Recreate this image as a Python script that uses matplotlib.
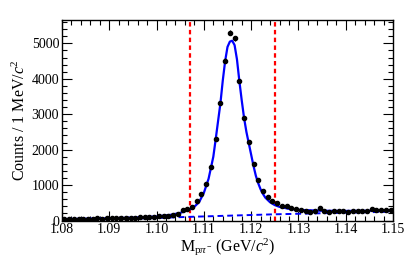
import numpy as np
import matplotlib
matplotlib.use("Agg")
import matplotlib.pyplot as plt
from matplotlib.ticker import MultipleLocator, FormatStrFormatter

plt.rcParams['font.family'] = ['Liberation Serif', 'DejaVu Serif']
plt.rcParams['mathtext.fontset'] = 'custom'
plt.rcParams['mathtext.rm'] = 'Liberation Serif'
plt.rcParams['mathtext.it'] = 'Liberation Serif:italic'

# Data points (bin centers, counts per 1 MeV)
bin_centers = np.round(np.arange(1.0805, 1.1500, 0.001), 4)
counts = [40, 45, 42, 50, 48, 55, 52, 58, 56, 62, 60, 66, 64, 70, 75, 80, 85, 90, 100, 105,
          115, 125, 135, 147, 192, 296, 316, 372, 550, 739, 1030, 1501, 2291, 3307, 4510, 5300,
          5142, 3945, 2901, 2215, 1594, 1140, 832, 655, 542, 485, 418, 418, 353, 325,
          305, 268, 248, 260, 353, 268, 240, 277, 268, 277, 240, 277, 268, 262, 280, 320,
          290, 300, 310, 310]

# Total fit curve
fit_x = [1.080, 1.085, 1.090, 1.095, 1.100, 1.103, 1.105, 1.107, 1.108, 1.109, 1.110, 1.111,
         1.112, 1.1125, 1.113, 1.1135, 1.114, 1.1145, 1.115, 1.1155, 1.116, 1.1165, 1.117,
         1.1175, 1.118, 1.1185, 1.119, 1.1195, 1.120, 1.1205, 1.121, 1.1215, 1.122, 1.1225,
         1.123, 1.124, 1.125, 1.126, 1.128, 1.130, 1.135, 1.140, 1.145, 1.150]
fit_y = [40, 50, 62, 80, 115, 160, 215, 310, 390, 520, 780, 1180, 1800, 2291, 2800, 3307,
         3950, 4500, 4900, 5050, 5075, 4950, 4550, 3946, 3400, 2900, 2500, 2180, 1860, 1540,
         1260, 1050, 880, 750, 645, 515, 435, 385, 330, 300, 275, 270, 275, 285]

# Background curve
bkg_x = [1.080, 1.085, 1.090, 1.095, 1.100, 1.105, 1.110, 1.115, 1.120, 1.125, 1.130,
         1.135, 1.140, 1.145, 1.150]
bkg_y = [0, 20, 40, 55, 70, 95, 115, 135, 155, 175, 190, 205, 220, 235, 250]

# Signal window
window = [1.107, 1.125]

fig = plt.figure(figsize=(4.15, 2.57), dpi=100)
ax = fig.add_axes([62/415, (257-220.5)/257, (393-62)/415, (220.5-20)/257])

ax.plot(fit_x, fit_y, color='#0000ff', lw=1.6, zorder=3)
ax.plot(bkg_x, bkg_y, color='#0000ff', lw=1.4, ls=(0, (3, 2)), zorder=3)
ax.errorbar(bin_centers, counts, yerr=np.sqrt(counts), fmt='o', color='black',
            ms=3.0, elinewidth=0.8, capsize=0, zorder=4)
for w in window:
    ax.axvline(w, color='#ff0000', lw=1.6, ls=(0, (2, 1.5)), zorder=2)

ax.set_xlim(1.08, 1.15)
ax.set_ylim(0, 5660)
ax.xaxis.set_major_locator(MultipleLocator(0.01))
ax.xaxis.set_minor_locator(MultipleLocator(0.002))
ax.xaxis.set_major_formatter(FormatStrFormatter('%.2f'))
ax.yaxis.set_major_locator(MultipleLocator(1000))
ax.yaxis.set_minor_locator(MultipleLocator(200))
ax.tick_params(which='both', direction='in', top=True, right=True, labelsize=10, pad=2)
ax.tick_params(which='major', length=7, width=0.8)
ax.tick_params(which='minor', length=3.5, width=0.8)
for s in ax.spines.values():
    s.set_linewidth(1.0)

ax.set_xlabel(r'M$_{\mathrm{p}\pi^{-}}$ (GeV/$\mathit{c}^{2}$)', fontsize=11.5, labelpad=0)
ax.set_ylabel(r'Counts / 1 MeV/$\mathit{c}^{2}$', fontsize=11.5, labelpad=2)

fig.savefig('out.png', dpi=100)
